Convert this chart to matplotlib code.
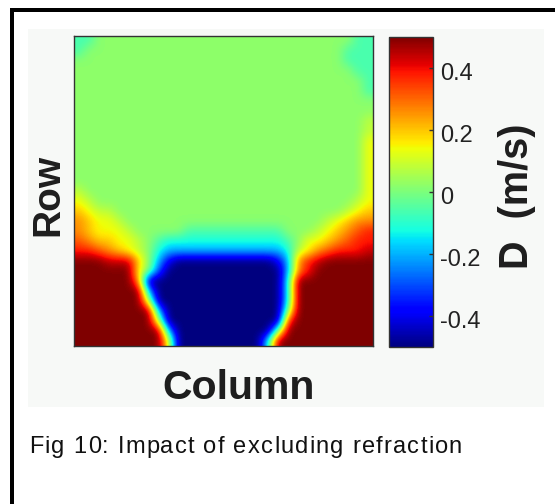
import numpy as np
import matplotlib.pyplot as plt
from matplotlib.patches import Rectangle
from matplotlib.transforms import ScaledTranslation

plt.rcParams['font.family'] = ['Liberation Sans', 'DejaVu Sans']

# D (m/s), one character per ~10x10 px cell (row 0 = top)
levels = {'0': -0.5, '1': -0.4, '2': -0.3, '3': -0.2, '4': -0.12, 'c': -0.06,
          '5': 0.02, '6': 0.08, '7': 0.14, 'y': 0.2, '8': 0.26, 'o': 0.32,
          '9': 0.38, 'r': 0.44, 'A': 0.5}
rows = [
    "cc555 55555 55555 55555 55555 555cc",
    "c5555 55555 55555 55555 55555 55ccc",
    "55555 55555 55555 55555 55555 55ccc",
    "55555 55555 55555 55555 55555 555cc",
    "55555 55555 55555 55555 55555 5555c",
    "55555 55555 55555 55555 55555 5555c",
    "55555 55555 55555 55555 55555 55555",
    "55555 55555 55555 55555 55555 55555",
    "55555 55555 55555 55555 55555 55556",
    "55555 55555 55555 55555 55555 55556",
    "55555 55555 55555 55555 55555 55557",
    "55555 55555 55555 55555 55555 55557",
    "55555 55555 55555 55555 55555 55557",
    "55555 55555 55555 55555 55555 55557",
    "55555 55555 55555 55555 55555 55557",
    "65555 55555 55555 55555 55555 55557",
    "76555 55555 55555 55555 55555 55567",
    "y7665 55555 55555 55555 55555 5567y",
    "8y776 55555 55555 55555 55555 67y88",
    "8y777 65555 5cccc ccccc c5556 7y8o9",
    "o8yy7 765c4 44444 44444 4c577 y8o99",
    "99o8y 76543 33333 33333 34678 o999r",
    "AAArr ry531 00000 00000 1389r AAAAA",
    "AAAAA A7520 00000 00000 0389A AAAAA",
    "AAAAA A8000 00000 00000 04AAA AAAAA",
    "AAAAA AA300 00000 00000 04AAA AAAAA",
    "AAAAA AA600 00000 00000 04AAA AAAAA",
    "AAAAA AAA30 00000 00000 05AAA AAAAA",
    "AAAAA AAA60 00000 00000 09AAA AAAAA",
    "AAAAA AAAA3 00000 00000 5AAAA AAAAA",
    "AAAAA AAAA7 00000 00004 AAAAA AAAAA",
]
vmin, vmax = -0.5, 0.5
cbar_ticks = [-0.4, -0.2, 0, 0.2, 0.4]
cbar_labels = ['-0.4', '-0.2', '0', '0.2', '0.4']
caption = 'Fig 10: Impact of excluding refraction'

D = np.array([[levels[ch] for ch in r.replace(' ', '')] for r in rows])

W, H = 555, 504
def fx(x):
    return x / W
def fy(y):
    return 1 - y / H

fig = plt.figure(figsize=(W / 100, H / 100), dpi=100)
fig.patch.set_facecolor('white')

# frame lines (top and left) and the light panel behind the plot
fig.add_artist(Rectangle((fx(10), fy(12)), 1 - fx(10), 4 / H, transform=fig.transFigure,
                         facecolor='black', edgecolor='none'))
fig.add_artist(Rectangle((fx(10), 0), 4 / W, fy(8), transform=fig.transFigure,
                         facecolor='black', edgecolor='none'))
fig.add_artist(Rectangle((fx(28), fy(407)), (544 - 28) / W, (407 - 29) / H,
                         transform=fig.transFigure, facecolor='#f7f9f7',
                         edgecolor='none', zorder=-1))

ax = fig.add_axes([fx(74), fy(346), 299 / W, 310 / H])
im = ax.imshow(D, cmap='jet', vmin=vmin, vmax=vmax, aspect='auto',
               interpolation='bicubic', interpolation_stage='data')
ax.set_xticks([])
ax.set_yticks([])
for s in ax.spines.values():
    s.set_linewidth(1.0)
    s.set_color('#333333')

cax = fig.add_axes([fx(389), fy(347), 44 / W, 310 / H])
cb = fig.colorbar(im, cax=cax, ticks=cbar_ticks)
cb.ax.set_yticklabels(cbar_labels)
cb.outline.set_linewidth(1.0)
cb.outline.set_edgecolor('#333333')
cax.tick_params(direction='in', length=3, width=1, labelsize=17, pad=5,
                color='#333333', labelcolor='#222222')
shift = ScaledTranslation(0, -0.03, fig.dpi_scale_trans)
for lab in cax.get_yticklabels():
    lab.set_transform(lab.get_transform() + shift)

fig.text(fx(48), fy(195), 'Row', rotation=90, ha='center', va='center',
         fontsize=28, fontweight='bold', color='#1e1e1e')
fig.text(fx(239), fy(388), 'Column', ha='center', va='center',
         fontsize=29.5, fontweight='bold', color='#1e1e1e')
fig.text(fx(517), fy(196), 'D  (m/s)', rotation=90, ha='center', va='center',
         fontsize=28.5, fontweight='bold', color='#1e1e1e')

# caption is set with a little extra letter spacing
renderer = fig.canvas.get_renderer()
def advance(s):
    t = fig.text(0, 0, s + 'l', fontsize=17)
    w = t.get_window_extent(renderer).width
    t.remove()
    return w
base = advance('')
track = 1.2
for i, ch in enumerate(caption):
    if ch == ' ':
        continue
    x = 29 + advance(caption[:i]) - base + i * track
    fig.text(fx(x), fy(453), ch, ha='left', va='baseline', fontsize=17,
             color='#111111')

fig.savefig('out.png', dpi=100)
